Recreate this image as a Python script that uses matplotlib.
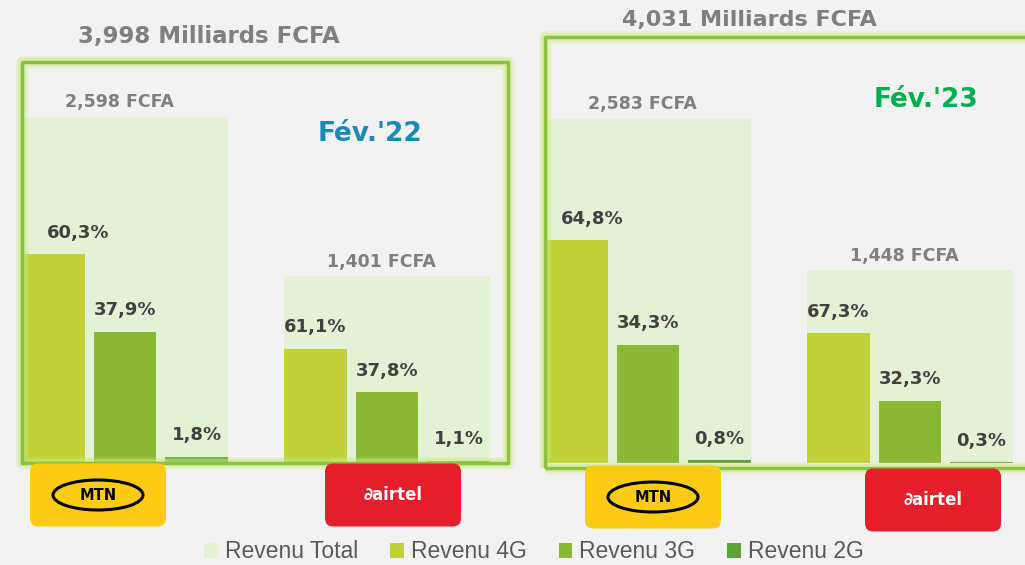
import matplotlib

matplotlib.use("Agg")
import matplotlib.pyplot as plt
from matplotlib.patches import Rectangle, FancyBboxPatch, Ellipse, Patch

# ---- data ----
operators = ["MTN", "Airtel"]
periods = ["Fév.'22", "Fév.'23"]
market_totals = ["3,998", "4,031"]           # Milliards FCFA
revenue_total_22 = [2598, 1401]
revenue_total_23 = [2583, 1448]
pct_4g_22 = [60.3, 61.1]
pct_3g_22 = [37.9, 37.8]
pct_2g_22 = [1.8, 1.1]
pct_4g_23 = [64.8, 67.3]
pct_3g_23 = [34.3, 32.3]
pct_2g_23 = [0.8, 0.3]
legend_labels = ["Revenu Total", "Revenu 4G", "Revenu 3G", "Revenu 2G"]

BG = "#f2f2f2"
C_TOTAL = "#e4f1d5"
C_4G = "#c1d13a"
C_3G = "#8bb834"
C_2G = "#5ba238"
FRAME = "#8cc23f"
GLOW = "#c8ec7e"
GREY = "#7f7f7f"
DARK = "#404040"
BOLD = "DejaVu Sans"

W, H = 1025, 565


def fx(px):
    return px / W


def fy(py):
    return 1 - py / H


def fmt_thousands(v):
    return f"{v / 1000:.3f}".replace(".", ",")


def fmt_pct(p):
    return f"{p:.1f}".replace(".", ",") + "%"


def draw_panel(ax, totals, p4, p3, p2, first_shift):
    step = 0.273
    bw = 0.237
    tw = 0.79
    for i in range(len(totals)):
        ax.bar(i, totals[i], width=tw, color=C_TOTAL, zorder=1)
        ax.annotate(f"{fmt_thousands(totals[i])} FCFA", (i, totals[i]),
                    xytext=(-4, 4), textcoords="offset points",
                    ha="center", va="bottom", color=GREY, fontsize=12.5,
                    weight="bold", family=BOLD)
        for k, (pcts, col) in enumerate([(p4, C_4G), (p3, C_3G), (p2, C_2G)]):
            x = i + (k - 1) * step
            h = totals[i] * pcts[i] / 100
            ax.bar(x, h, width=bw, color=col, zorder=2)
            dx = first_shift if (i == 0 and k == 0) else 0
            ax.annotate(fmt_pct(pcts[i]), (x, h), xytext=(dx, 9),
                        textcoords="offset points", ha="center", va="bottom",
                        color=DARK, fontsize=13, weight="bold", family=BOLD)
    ax.set_ylim(0, 3025)
    ax.set_axis_off()


def frame(fig, x0, y0, x1, y1):
    # soft glow + solid green frame line
    for lw, col, a in [(9, GLOW, 0.25), (6, GLOW, 0.45), (2.5, FRAME, 1.0)]:
        fig.patches.append(Rectangle((fx(x0), fy(y1)), fx(x1) - fx(x0),
                                     fy(y0) - fy(y1), fill=False, lw=lw,
                                     edgecolor=col, alpha=a,
                                     joinstyle="round",
                                     transform=fig.transFigure, zorder=3))


def mtn_logo(fig, cx, cy):
    w, h = 136, 63
    fig.patches.append(FancyBboxPatch((fx(cx - w / 2), fy(cy + h / 2)),
                                      w / W, h / H,
                                      boxstyle="round,pad=0,rounding_size=0.008",
                                      mutation_aspect=W / H,
                                      facecolor="#fccc14", edgecolor="none",
                                      transform=fig.transFigure, zorder=4))
    fig.patches.append(Ellipse((fx(cx), fy(cy)), 90 / W, 30 / H, fill=False,
                               lw=2.2, edgecolor="black",
                               transform=fig.transFigure, zorder=5))
    fig.text(fx(cx), fy(cy), "MTN", ha="center", va="center",
             fontsize=10.5, weight="bold", color="black", family=BOLD,
             zorder=6)


def airtel_logo(fig, cx, cy):
    w, h = 136, 63
    fig.patches.append(FancyBboxPatch((fx(cx - w / 2), fy(cy + h / 2)),
                                      w / W, h / H,
                                      boxstyle="round,pad=0,rounding_size=0.008",
                                      mutation_aspect=W / H,
                                      facecolor="#e41f2b", edgecolor="none",
                                      transform=fig.transFigure, zorder=4))
    fig.text(fx(cx), fy(cy), "\u2202airtel", ha="center", va="center",
             fontsize=12, weight="bold", color="white", family=BOLD,
             zorder=6)


fig = plt.figure(figsize=(10.25, 5.65), dpi=100, facecolor=BG)

ax1 = fig.add_axes([fx(20.2), 102 / H, 497.8 / W, 403 / H])
ax1.patch.set_alpha(0)
ax1.set_xlim(-0.4, 1.5)
draw_panel(ax1, revenue_total_22, pct_4g_22, pct_3g_22, pct_2g_22, 18)

ax2 = fig.add_axes([fx(543.2), 102 / H, 484.7 / W, 403 / H])
ax2.patch.set_alpha(0)
ax2.set_xlim(-0.4, 1.45)
draw_panel(ax2, revenue_total_23, pct_4g_23, pct_3g_23, pct_2g_23, 11)

frame(fig, 22, 62, 508, 463)
frame(fig, 545, 37, 1040, 468)

fig.text(fx(209), fy(36), f"{market_totals[0]} Milliards FCFA", ha="center",
         va="center", fontsize=16.5, weight="bold", color=GREY, family=BOLD)
fig.text(fx(749), fy(20), f"{market_totals[1]} Milliards FCFA", ha="center",
         va="center", fontsize=16, weight="bold", color=GREY, family=BOLD)
fig.text(fx(370), fy(134), periods[0], ha="center", va="center",
         fontsize=19, weight="bold", color="#1a8ab4", family=BOLD)
fig.text(fx(926), fy(100), periods[1], ha="center", va="center",
         fontsize=19, weight="bold", color="#00b050", family=BOLD)

mtn_logo(fig, 98, 495)
airtel_logo(fig, 393, 495)
mtn_logo(fig, 653, 497)
airtel_logo(fig, 933, 500)

handles = [Patch(facecolor=c, edgecolor="none")
           for c in [C_TOTAL, C_4G, C_3G, C_2G]]
fig.legend(handles, legend_labels, loc="center", ncol=4, frameon=False,
           bbox_to_anchor=(fx(534), fy(552)),
           handlelength=0.6, handleheight=0.6, handletextpad=0.3,
           columnspacing=1.4, labelcolor="#595959", borderpad=0.2,
           prop={"family": "Liberation Sans", "size": 16.5})

fig.savefig("out.png", dpi=100, facecolor=BG)
